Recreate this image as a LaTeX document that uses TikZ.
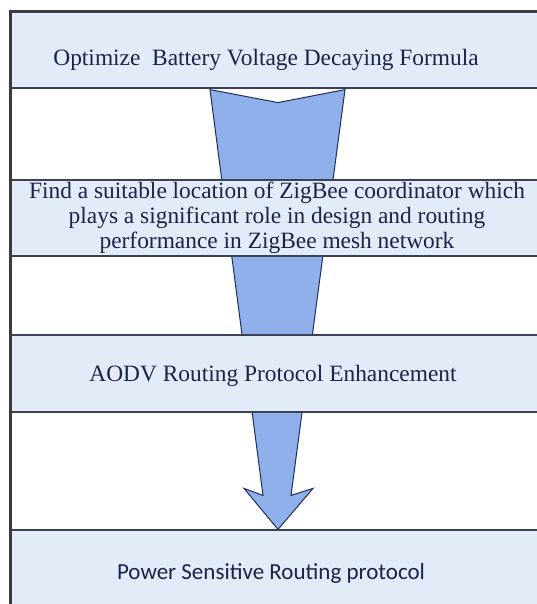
\documentclass[tikz,border=0pt]{standalone}
\usepackage{fontspec}
\setmainfont{Liberation Serif}
\newfontfamily\stageserif{Liberation Serif}
\newfontfamily\labelsans{Carlito}
\usetikzlibrary{calc,backgrounds}
\definecolor{boxfill}{HTML}{E3EBF9}
\definecolor{boxline}{HTML}{3B4257}
\definecolor{frame}{HTML}{3A3A3F}
\definecolor{flowfill}{HTML}{8FB0EA}
\definecolor{flowline}{HTML}{1E2E5A}
\definecolor{ink}{HTML}{1B2447}

\begin{document}
\begin{tikzpicture}[x=1pt,y=-1pt,
 stage/.style={draw=boxline,line width=1.2pt,fill=boxfill,minimum width=534pt,inner sep=0pt},
 caption/.style={text=ink,align=center,inner sep=0pt,anchor=base,font=\stageserif\fontsize{23.4}{25}\selectfont}]
 \useasboundingbox (0,0) rectangle (536,604);
 \node[stage,minimum height=76pt] (opt) at (278,50) {};
 \node[stage,minimum height=76pt] (loc) at (278,218) {};
 \node[stage,minimum height=77pt] (aodv) at (278,373.5) {};
 \node[stage,minimum height=94pt] (psr) at (278,577) {};
 \node[caption] (optlbl) at (266,66) {Optimize\ \ Battery Voltage Decaying Formula};
 \node[caption,anchor=center] (loclbl) at (277,218) {Find a suitable location of ZigBee coordinator which\\
  plays a significant role in design and routing\\performance in ZigBee mesh network};
 \node[caption] (aodvlbl) at (273,381.5) {AODV Routing Protocol Enhancement};
 \node[caption,font=\labelsans\fontsize{23}{25}\selectfont] (psrlbl) at (271,579) {Power Sensitive Routing protocol};
 \begin{scope}[on background layer]
  \draw[fill=flowfill,draw=flowline,line width=1pt,line join=miter]
   ($(opt.south)+(-68,1)$) -- ($(opt.south)+(0,14)$) -- ($(opt.south)+(67,1)$)
   -- ($(psr.north)+(13,-34)$) -- ($(psr.north)+(35,-41)$) -- (psr.north)
   -- ($(psr.north)+(-34,-41)$) -- ($(psr.north)+(-15,-34)$) -- cycle;
 \end{scope}
 \draw[frame,line width=2.2pt] (psr.south west) -- (opt.north west) -- (opt.north east);
\end{tikzpicture}
\end{document}
